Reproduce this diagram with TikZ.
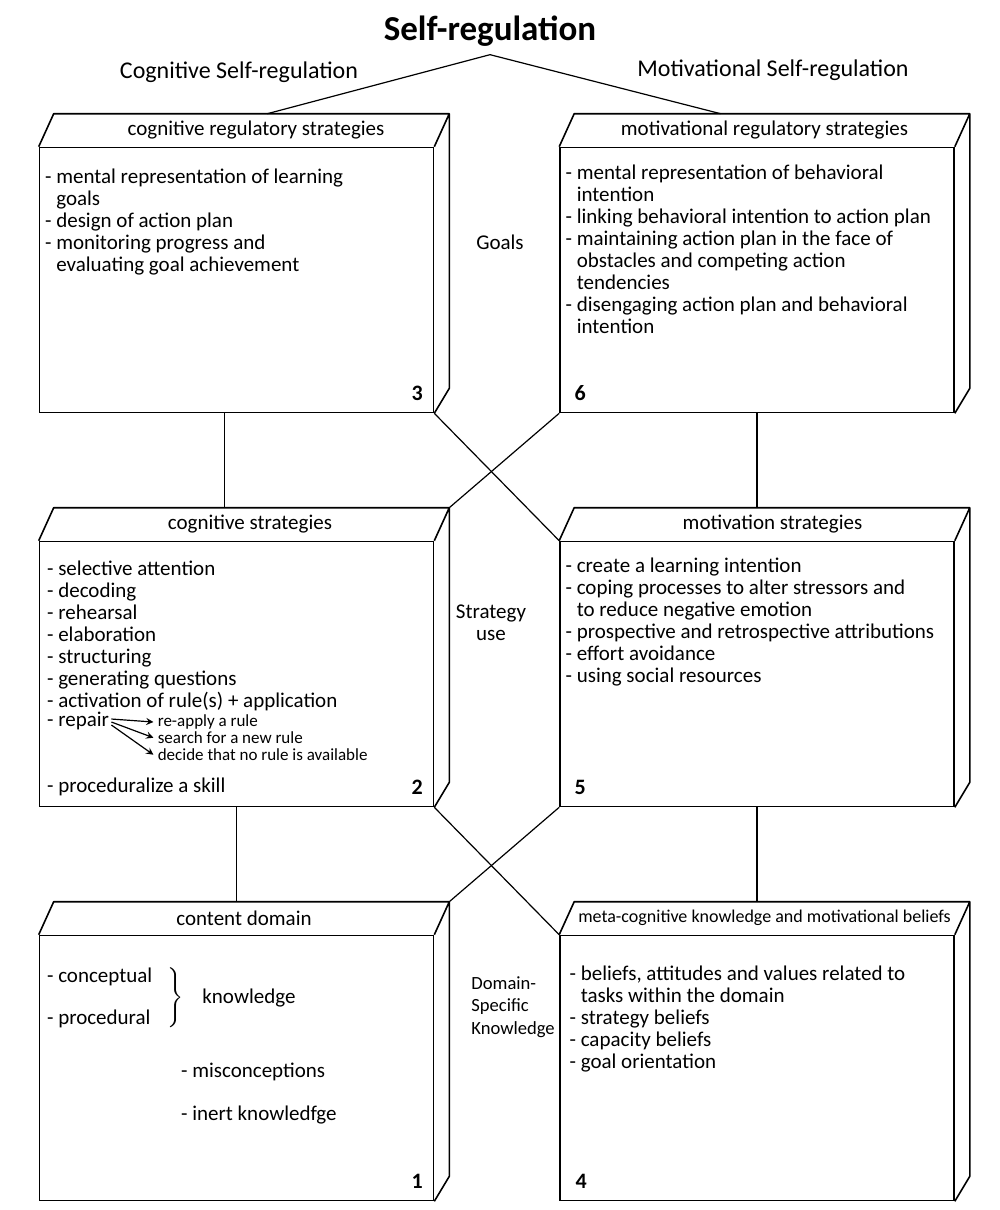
\documentclass[tikz,border=0pt]{standalone}
\usepackage{fontspec}
\setmainfont{Carlito}
\usetikzlibrary{arrows, calc, positioning}

\newcommand{\contline}{\hphantom{- }}

\tikzstyle{block} = [rectangle, draw=black, thick, minimum width=197pt, minimum height=132.5pt, inner sep=0pt]
\tikzstyle{face} = [thick, line join=round]
\tikzstyle{toptitle} = [font=\fontsize{17.5}{20}\selectfont\bfseries, inner sep=4pt]
\tikzstyle{sidelabel} = [font=\fontsize{12}{14}\selectfont, inner sep=0pt]
\tikzstyle{boxhead} = [font=\fontsize{10.5}{12}\selectfont, inner sep=0pt]
\tikzstyle{boxtext} = [anchor=north west, align=left, inner sep=0pt, font=\fontsize{10.5}{11}\selectfont]
\tikzstyle{subtext} = [anchor=base west, inner sep=0pt, font=\fontsize{8.5}{9}\selectfont]
\tikzstyle{boxnum} = [font=\fontsize{11}{13}\selectfont\bfseries, inner sep=0pt]
\tikzstyle{midlabel} = [font=\fontsize{10.5}{11.2}\selectfont, inner sep=0pt]
\tikzstyle{link} = [semithick]
\tikzstyle{arrow} = [semithick,->,>=stealth]

\begin{document}
\begin{tikzpicture}[x=0.5pt, y=-0.5pt, node distance=197pt]
\useasboundingbox (0,0) rectangle (1000,1210);

\node (title) [toptitle] at (490,31) {Self-regulation};
\node (cogside) [sidelabel] at (239,72) {Cognitive Self-regulation};
\node (motside) [sidelabel] at (773,70) {Motivational Self-regulation};

% front faces of the six blocks
\node (cogreg) [block] at (236.5,280) {};
\node (motreg) [block, right of=cogreg, xshift=63.25pt] {};
\node (cogstr) [block, below of=cogreg] {};
\node (motstr) [block, below of=motreg] {};
\node (content) [block, below of=cogstr] {};
\node (meta) [block, below of=motstr] {};

% top and side faces
\foreach \b in {cogreg,motreg,cogstr,motstr,content,meta}
  \draw [face] (\b.north west) -- ++(15,-33) coordinate (\b-bnw)
    -- ([shift={(15,-33)}]\b.north east) coordinate (\b-bne)
    -- ([shift={(15,-25)}]\b.south east) -- (\b.south east)
    (\b.north east) -- (\b-bne);

\node (cogreg-head) [boxhead, xshift=6pt] at ($(cogreg.north west)!0.5!(cogreg-bne)$) {cognitive regulatory strategies};
\node (motreg-head) [boxhead] at ($(motreg.north west)!0.5!(motreg-bne)$) {motivational regulatory strategies};
\node (cogstr-head) [boxhead, xshift=3pt] at ($(cogstr.north west)!0.5!(cogstr-bne)$) {cognitive strategies};
\node (motstr-head) [boxhead, xshift=4pt] at ($(motstr.north west)!0.5!(motstr-bne)$) {motivation strategies};
\node (content-head) [boxhead] at ($(content.north west)!0.5!(content-bne)$) {content domain};
\node (meta-head) [boxhead, font=\fontsize{9}{10}\selectfont] at ($(meta.north west)!0.5!(meta-bne)$) {meta-cognitive knowledge and motivational beliefs};

% block 3
\node (cogreg-text) [boxtext] at ([shift={(6,22)}]cogreg.north west) {- mental representation of learning\\\contline goals\\- design of action plan\\- monitoring progress and\\\contline evaluating goal achievement};
\node (cogreg-num) [boxnum] at ([shift={(-17,-20)}]cogreg.south east) {3};

% block 6
\node (motreg-text) [boxtext] at ([shift={(6,18)}]motreg.north west) {- mental representation of behavioral\\\contline intention\\- linking behavioral intention to action plan\\- maintaining action plan in the face of\\\contline obstacles and competing action\\\contline tendencies\\- disengaging action plan and behavioral\\\contline intention};
\node (motreg-num) [boxnum] at ([shift={(21,-20)}]motreg.south west) {6};

% block 2
\node (cogstr-text) [boxtext] at ([shift={(8,20)}]cogstr.north west) {- selective attention\\- decoding\\- rehearsal\\- elaboration\\- structuring\\- generating questions\\- activation of rule(s) + application};
\node (repair) [boxtext] at ([shift={(8,171)}]cogstr.north west) {- repair};
\node (reapply) [subtext] at ([xshift=24pt]repair.base east) {re-apply a rule};
\node (search) [subtext] at ([shift={(0,17)}]reapply.base west) {search for a new rule};
\node (decide) [subtext] at ([shift={(0,17)}]search.base west) {decide that no rule is available};
\node (skill) [boxtext] at ([shift={(8,237)}]cogstr.north west) {- proceduralize a skill};
\node (cogstr-num) [boxnum] at ([shift={(-17,-20)}]cogstr.south east) {2};

\draw [arrow] ([shift={(2,-2)}]repair.east) -- ([xshift=-2pt]reapply.west);
\draw [arrow] ([shift={(2,1)}]repair.east) -- ([xshift=-2pt]search.west);
\draw [arrow] ([shift={(2,4)}]repair.east) -- ([xshift=-2pt]decide.west);

% block 5
\node (motstr-text) [boxtext] at ([shift={(6,17)}]motstr.north west) {- create a learning intention\\- coping processes to alter stressors and\\\contline to reduce negative emotion\\- prospective and retrospective attributions\\- effort avoidance\\- using social resources};
\node (motstr-num) [boxnum] at ([shift={(21,-20)}]motstr.south west) {5};

% block 1
\node (content-text) [boxtext] at ([shift={(8,33)}]content.north west) {- conceptual\\[10pt]- procedural};
\node (brace) [inner sep=0pt, right=6pt of content-text] {$\left.\vrule height 13pt depth 13pt width 0pt\right\}$};
\node (knowledge) [midlabel, right=9pt of brace] {knowledge};
\node (content-more) [boxtext] at ([shift={(142,128)}]content.north west) {- misconceptions\\[10.5pt]- inert knowledfge};
\node (content-num) [boxnum] at ([shift={(-17,-20)}]content.south east) {1};

% block 4
\node (meta-text) [boxtext] at ([shift={(10,31)}]meta.north west) {- beliefs, attitudes and values related to\\\contline tasks within the domain\\- strategy beliefs\\- capacity beliefs\\- goal orientation};
\node (meta-num) [boxnum] at ([shift={(22,-20)}]meta.south west) {4};

% level labels
\node (goals) [midlabel] at (500,242) {Goals};
\node (stratuse) [midlabel, align=center] at (491,623) {Strategy\\use};
\node (domain) [midlabel, align=left, anchor=west, font=\fontsize{9.3}{11.2}\selectfont] at (471,1007) {Domain-\\Specific\\Knowledge};

% connectors
\draw [link] (title.south) -- ($(cogreg-bnw)!0.54!(cogreg-bne)$);
\draw [link] (title.south) -- ($(motreg-bnw)!0.37!(motreg-bne)$);
\draw [link] ([xshift=-6pt]cogreg.south) -- ([xshift=-6pt]cogreg.south |- cogstr-bnw);
\draw [link] (cogstr.south) -- (cogstr.south |- content-bnw);
\draw [link] (motreg.south) -- (motreg.south |- motstr-bnw);
\draw [link] (motstr.south) -- (motstr.south |- meta-bnw);
\draw [link] (cogreg.south east) -- (motstr.north west);
\draw [link] (motreg.south west) -- (cogstr-bne);
\draw [link] (cogstr.south east) -- (meta.north west);
\draw [link] (motstr.south west) -- (content-bne);

\end{tikzpicture}
\end{document}
